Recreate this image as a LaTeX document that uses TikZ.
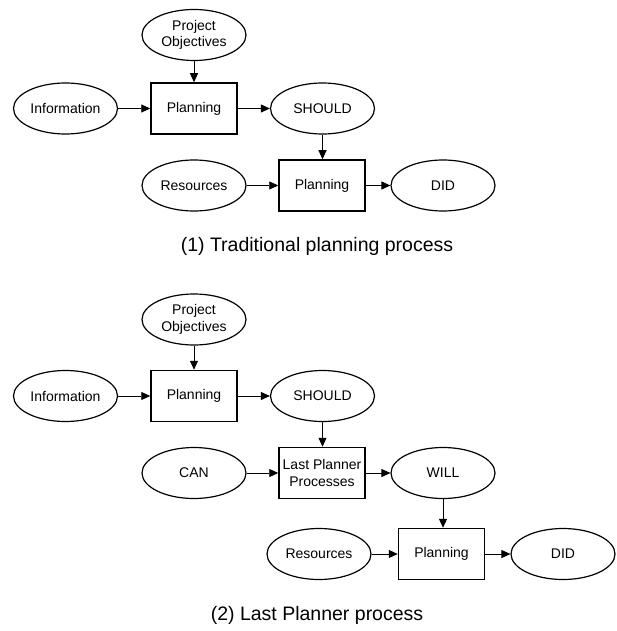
\documentclass[tikz,border=0pt]{standalone}
\usepackage{fontspec}
\setmainfont{Liberation Sans}
\usetikzlibrary{arrows.meta,shapes.geometric}
\begin{document}
\begin{tikzpicture}[x=1pt,y=-1pt,
  oval/.style={draw, ellipse, line width=1.2pt, minimum width=104pt, minimum height=51pt, inner sep=0pt, align=center, font=\fontsize{14}{16.5}\selectfont},
  proc/.style={draw, rectangle, line width=1.5pt, minimum width=86pt, minimum height=51pt, inner sep=0pt, align=center, font=\fontsize{14}{16.5}\selectfont},
  flow/.style={line width=0.9pt, -{Triangle[length=9pt,width=8pt]}},
  captiontext/.style={font=\fontsize{19.5}{22}\selectfont}]
\useasboundingbox (0,0) rectangle (616,631);
% diagram 1
\node[oval] (po1) at (194,35) {Project\\Objectives};
\node[oval] (info1) at (65.5,108.5) {Information};
\node[proc] (pl1) at (194,108.5) {Planning};
\node[oval] (sh1) at (322.5,108.5) {SHOULD};
\node[oval] (res1) at (194,185.5) {Resources};
\node[proc] (pl2) at (322,185.5) {Planning};
\node[oval] (did1) at (443,185.5) {DID};
\node[captiontext] (cap1) at (317,246) {(1) Traditional planning process};
\draw[flow] (po1) -- (pl1);
\draw[flow] (info1) -- (pl1);
\draw[flow] (pl1) -- (sh1);
\draw[flow] (sh1.south) -- (sh1.south |- pl2.north);
\draw[flow] (res1) -- (pl2);
\draw[flow] (pl2) -- (did1);
% diagram 2
\node[oval] (po2) at (194,319.5) {Project\\Objectives};
\node[oval] (info2) at (65.5,396) {Information};
\node[proc] (pl3) at (194,396) {Planning};
\node[oval] (sh2) at (322.5,396) {SHOULD};
\node[oval] (can) at (194,473) {CAN};
\node[proc] (lp) at (322,473) {Last Planner\\Processes};
\node[oval] (will) at (443,473) {WILL};
\node[oval] (res2) at (319,554) {Resources};
\node[proc] (pl4) at (441.5,554) {Planning};
\node[oval] (did2) at (563,554) {DID};
\node[captiontext] (cap2) at (317,615) {(2) Last Planner process};
\draw[flow] (po2) -- (pl3);
\draw[flow] (info2) -- (pl3);
\draw[flow] (pl3) -- (sh2);
\draw[flow] (sh2.south) -- (sh2.south |- lp.north);
\draw[flow] (can) -- (lp);
\draw[flow] (lp) -- (will);
\draw[flow] (will.south) -- (will.south |- pl4.north);
\draw[flow] (res2) -- (pl4);
\draw[flow] (pl4) -- (did2);
\end{tikzpicture}
\end{document}
